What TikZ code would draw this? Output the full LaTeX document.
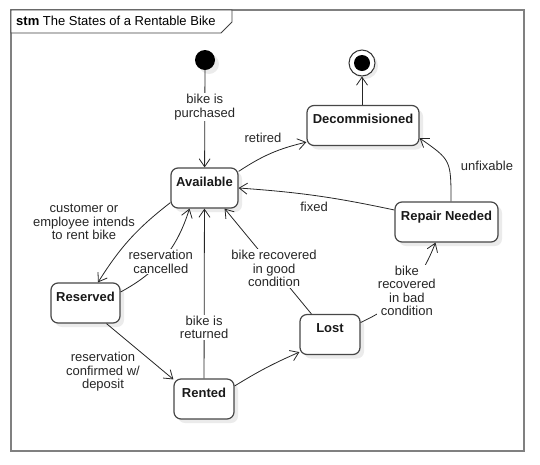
\documentclass[tikz,border=0pt]{standalone}
\usepackage{fontspec}
\setmainfont{Liberation Sans}
\usetikzlibrary{arrows.meta,shadows}

\begin{document}
\begin{tikzpicture}[x=1pt,y=-1pt,
	state/.style={draw=black!72,line width=1.2pt,rounded corners=7pt,fill=white,
		drop shadow={shadow xshift=4pt,shadow yshift=-4pt,fill=black!8,opacity=1},
		font=\fontsize{13}{14}\selectfont\bfseries,text=black!90,
		inner xsep=0pt,inner ysep=2pt,text height=16pt,text depth=20pt},
	trans/.style={draw=black!85,line width=0.8pt,-{Straight Barb[length=8pt,width=11pt]}},
	lbl/.style={font=\fontsize{13}{13.5}\selectfont,align=center,text=black!85,inner sep=1pt},
	onl/.style={lbl,fill=white}]
%
	\useasboundingbox (0,0) rectangle (540,464);
	\draw[black!50,line width=2pt] (11,10) rectangle (524,451);
	\draw[black!75,line width=0.8pt,fill=white] (11,10) -- (232,10) -- (232,22) -- (221,33) -- (11,33) -- cycle;
	\node[anchor=west,font=\fontsize{13}{14}\selectfont,inner sep=0pt] (title) at (16,21) {\textbf{stm} The States of a Rentable Bike};
%
	\node[circle,fill=black,minimum size=20pt,inner sep=0pt,
		drop shadow={shadow xshift=4pt,shadow yshift=-4pt,fill=black!8,opacity=1}] (init) at (205,60) {};
	\node[circle,draw=black!80,line width=1pt,fill=white,minimum size=26pt,inner sep=0pt,
		drop shadow={shadow xshift=3pt,shadow yshift=-3pt,fill=black!8,opacity=1}] (final) at (362,63) {};
	\node[circle,fill=black,minimum size=16pt,inner sep=0pt] (finaldot) at (final) {};
%
	\node[state,minimum width=67pt] (avail) at (204.5,188) {Available};
	\node[state,minimum width=112pt] (decom) at (363,125.5) {Decommisioned};
	\node[state,minimum width=103pt] (repair) at (446.5,222) {Repair Needed};
	\node[state,minimum width=69pt] (reserv) at (85.5,303) {Reserved};
	\node[state,minimum width=60pt] (rented) at (204,399) {Rented};
	\node[state,minimum width=60pt] (lost) at (330,334.5) {Lost};
%
	% end points on the box sides
	\coordinate (a1) at ([yshift=-4pt]avail.north east);
	\coordinate (a2) at ([yshift=6pt]avail.south west);
	\coordinate (a3) at ([xshift=-15pt]avail.south);
	\coordinate (a4) at ([xshift=-14pt]avail.south east);
	\coordinate (d1) at ([yshift=4pt]decom.south west);
	\coordinate (d2) at ([yshift=8pt]decom.south east);
	\coordinate (r1) at ([xshift=4.5pt]repair.north);
	\coordinate (r2) at ([yshift=12pt]repair.west);
	\coordinate (r3) at ([xshift=-11pt]repair.south);
	\coordinate (s1) at ([yshift=11pt]reserv.east);
	\coordinate (s2) at ([xshift=21pt]reserv.south);
	\coordinate (s3) at ([xshift=12.5pt]reserv.north);
	\coordinate (n1) at ([yshift=13pt]rented.east);
	\coordinate (n2) at ([yshift=-1pt]rented.north west);
	\coordinate (l1) at ([xshift=12pt]lost.north west);
	\coordinate (l2) at ([yshift=12pt]lost.east);
	\coordinate (l3) at ([yshift=3pt]lost.south west);
%
	\draw[trans] (init) -- node[onl,pos=0.38] (purch) {bike is\\purchased} (avail);
	\draw[trans] (decom.north -| final) -- (final);
	\draw[trans] (a1) to[bend left=10] (d1);
	\node[lbl] (retired) at (263,138) {retired};
	\draw[trans] (r1) .. controls (451,160) .. (d2);
	\node[lbl] (unfix) at (487,166) {unfixable};
	\draw[trans] (r2) to[bend right=4] (avail.east);
	\node[lbl] (fixed) at (314,207) {fixed};
	\draw[trans] (a2) to[bend right=10] (s3);
	\node[lbl] (intend) at (84,222) {customer or\\employee intends\\to rent bike};
	\draw[trans] (s1) to[bend right=22] node[onl,pos=0.45] (cancel) {reservation\\cancelled} (a3);
	\draw[trans] (rented) -- node[onl,pos=0.3] (returned) {bike is\\returned} (avail);
	\draw[trans] (l1) -- node[onl,pos=0.43] (good) {bike recovered\\in good\\condition} (a4);
	\draw[trans] (s2) -- (n2);
	\node[lbl] (confirm) at (103,372) {reservation\\confirmed w/\\deposit};
	\draw[trans] (n1) to[bend left=4] (l3);
	\draw[trans] (l2) to[bend right=22] node[onl,pos=0.5] (bad) {bike\\recovered\\in bad\\condition} (r3);
%
\end{tikzpicture}
\end{document}
